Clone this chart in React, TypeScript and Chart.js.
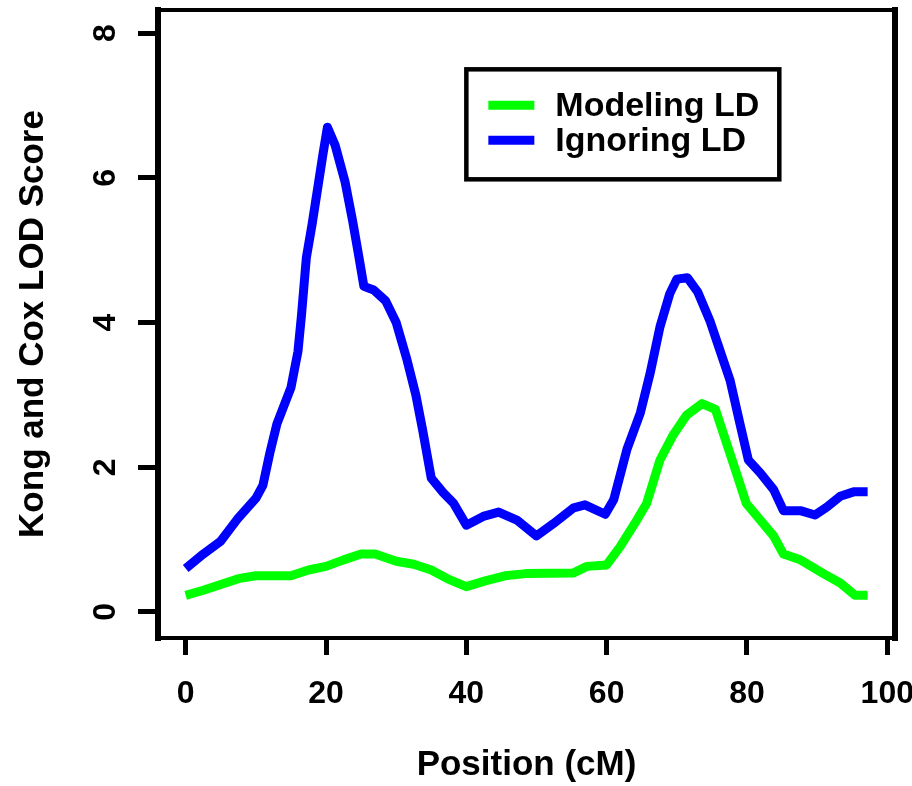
import React, { useEffect, useRef } from "react";
import { Chart, registerables } from "chart.js";

Chart.register(...registerables);

// ---- data ----
const modelingPos = [0, 2.5, 5, 7.5, 10, 12.5, 15, 17.5, 20, 22.5, 25, 27, 30, 32.5, 35, 37.5, 40, 42.7, 45.5, 48.5, 55.3, 57.2, 60, 61.9, 64.3, 65.7, 67.6, 69.5, 71.4, 73.6, 75.5, 77.1, 78.5, 79.9, 81.9, 83.8, 85.2, 87.6, 90.9, 93.3, 95.4, 97.2];
const modelingLod = [0.23, 0.3, 0.38, 0.46, 0.5, 0.5, 0.5, 0.58, 0.63, 0.72, 0.8, 0.8, 0.7, 0.66, 0.58, 0.45, 0.35, 0.43, 0.5, 0.53, 0.54, 0.63, 0.65, 0.9, 1.27, 1.5, 2.1, 2.45, 2.72, 2.88, 2.8, 2.33, 1.92, 1.5, 1.27, 1.05, 0.8, 0.72, 0.53, 0.4, 0.23, 0.23];

const ignoringPos = [0, 2.5, 5, 7.5, 10, 11, 12, 13, 15, 16, 16.5, 17.2, 18, 18.8, 19.6, 20.2, 21.3, 22.7, 23.8, 24.7, 25.4, 26.8, 28.5, 30, 31.5, 32.8, 33.8, 35, 36.7, 38.2, 40, 42.4, 44.6, 47.2, 50, 52.4, 55.3, 56.9, 59.8, 61, 62.9, 64.8, 66.2, 67.6, 69, 70, 71.5, 73, 74.7, 76.2, 77.6, 79, 80.2, 81.9, 83.8, 85.2, 87.6, 89.7, 91.4, 93.3, 95.2, 97.2];
const ignoringLod = [0.6, 0.8, 0.98, 1.3, 1.57, 1.75, 2.2, 2.6, 3.1, 3.6, 4.1, 4.9, 5.35, 5.85, 6.35, 6.7, 6.45, 5.95, 5.4, 4.9, 4.5, 4.45, 4.3, 4.0, 3.5, 3.0, 2.5, 1.85, 1.65, 1.5, 1.2, 1.32, 1.38, 1.27, 1.05, 1.22, 1.44, 1.48, 1.35, 1.55, 2.25, 2.75, 3.3, 3.94, 4.4, 4.6, 4.62, 4.42, 4.03, 3.6, 3.2, 2.6, 2.1, 1.92, 1.69, 1.4, 1.4, 1.34, 1.45, 1.6, 1.66, 1.66];

const xTicks = [0, 20, 40, 60, 80, 100];
const yTicks = [0, 2, 4, 6, 8];
const seriesLabels = ["Modeling LD", "Ignoring LD"];
const seriesColors = ["#00FF00", "#0000FF"];
const xTitle = "Position (cM)";
const yTitle = "Kong and Cox LOD Score";
const legendAnchor = { x: 40, y: 7.5 };

const FONT = "'Liberation Sans', Arial, Helvetica, sans-serif";

const framePlugin = {
  id: "frame",
  afterDraw(chart: any) {
    const { ctx, chartArea: a } = chart;
    ctx.save();
    ctx.strokeStyle = "#000";
    ctx.lineCap = "square";
    ctx.lineWidth = 4;
    ctx.beginPath();
    ctx.moveTo(a.left, a.top);
    ctx.lineTo(a.right, a.top);
    ctx.moveTo(a.left, a.bottom);
    ctx.lineTo(a.right, a.bottom);
    ctx.stroke();
    ctx.lineWidth = 6;
    ctx.beginPath();
    ctx.moveTo(a.left, a.top);
    ctx.lineTo(a.left, a.bottom);
    ctx.moveTo(a.right, a.top);
    ctx.lineTo(a.right, a.bottom);
    ctx.stroke();
    ctx.restore();
  },
};

const boxLegendPlugin = {
  id: "boxLegend",
  afterDraw(chart: any) {
    const { ctx, scales } = chart;
    const left = scales.x.getPixelForValue(legendAnchor.x);
    const top = scales.y.getPixelForValue(legendAnchor.y);
    ctx.save();
    ctx.font = `bold 34px ${FONT}`;
    const textW = Math.max(...chart.data.datasets.map((d: any) => ctx.measureText(d.label).width));
    const w = 89 + textW + 20;
    const h = 110;
    ctx.strokeStyle = "#000";
    ctx.lineWidth = 4.5;
    ctx.strokeRect(left, top, w, h);
    chart.data.datasets.forEach((d: any, i: number) => {
      const cy = top + 36 + i * 35;
      ctx.strokeStyle = d.borderColor;
      ctx.lineWidth = 9;
      ctx.lineCap = "butt";
      ctx.beginPath();
      ctx.moveTo(left + 22, cy);
      ctx.lineTo(left + 68, cy);
      ctx.stroke();
      ctx.fillStyle = "#000";
      ctx.textAlign = "left";
      ctx.textBaseline = "middle";
      ctx.fillText(d.label, left + 89, cy + 1);
    });
    ctx.restore();
  },
};

export default function App() {
  const ref = useRef<HTMLCanvasElement>(null);
  useEffect(() => {
    if (!ref.current) return;
    const tickFont = { family: FONT, size: 32, weight: "bold" as const };
    const titleFont = { family: FONT, size: 35, weight: "bold" as const };
    const chart = new Chart(ref.current, {
      type: "line",
      data: {
        datasets: [
          {
            label: seriesLabels[0],
            data: modelingPos.map((x, i) => ({ x, y: modelingLod[i] })),
            borderColor: seriesColors[0],
            backgroundColor: seriesColors[0],
            borderWidth: 9,
            pointRadius: 0,
            tension: 0,
            fill: false,
            borderCapStyle: "butt",
            borderJoinStyle: "round",
          },
          {
            label: seriesLabels[1],
            data: ignoringPos.map((x, i) => ({ x, y: ignoringLod[i] })),
            borderColor: seriesColors[1],
            backgroundColor: seriesColors[1],
            borderWidth: 9,
            pointRadius: 0,
            tension: 0,
            fill: false,
            borderCapStyle: "butt",
            borderJoinStyle: "round",
          },
        ],
      },
      options: {
        animation: false,
        responsive: true,
        maintainAspectRatio: false,
        layout: { padding: { top: 10, right: 17, left: 0, bottom: 0 } },
        plugins: { legend: { display: false }, tooltip: { enabled: false } },
        scales: {
          x: {
            type: "linear",
            min: -3.95,
            max: 101.1,
            afterBuildTicks: (s: any) => {
              s.ticks = xTicks.map((v) => ({ value: v }));
            },
            afterFit: (s: any) => {
              s.height = 148;
              s.paddingLeft = 0;
              s.paddingRight = 0;
              s.paddingTop = 0;
              s.paddingBottom = 0;
            },
            ticks: {
              font: tickFont,
              color: "#000",
              padding: 20,
              maxRotation: 0,
              autoSkip: false,
              callback: (v: any) => String(v),
            },
            grid: { drawOnChartArea: false, tickLength: 17, tickWidth: 5, tickColor: "#000" },
            border: { display: false },
            title: { display: true, text: xTitle, font: titleFont, color: "#000", padding: { top: 0, bottom: 0 } },
          },
          y: {
            type: "linear",
            min: -0.36,
            max: 8.32,
            afterBuildTicks: (s: any) => {
              s.ticks = yTicks.map((v) => ({ value: v }));
            },
            afterFit: (s: any) => {
              s.width = 158;
              s.paddingLeft = 0;
              s.paddingRight = 0;
              s.paddingTop = 0;
              s.paddingBottom = 0;
            },
            ticks: {
              font: tickFont,
              color: "#000",
              padding: 23,
              minRotation: 90,
              maxRotation: 90,
              crossAlign: "center",
              autoSkip: false,
              callback: (v: any) => String(v),
            },
            grid: { drawOnChartArea: false, tickLength: 20, tickWidth: 5, tickColor: "#000" },
            border: { display: false },
            title: { display: true, text: yTitle, font: titleFont, color: "#000", padding: { top: 12, bottom: 0 } },
          },
        },
      },
      plugins: [framePlugin, boxLegendPlugin],
    } as any);
    return () => chart.destroy();
  }, []);
  return (
    <div style={{ position: "fixed", left: 0, top: 0, width: 912, height: 786, background: "#fff" }}>
      <canvas ref={ref} />
    </div>
  );
}
